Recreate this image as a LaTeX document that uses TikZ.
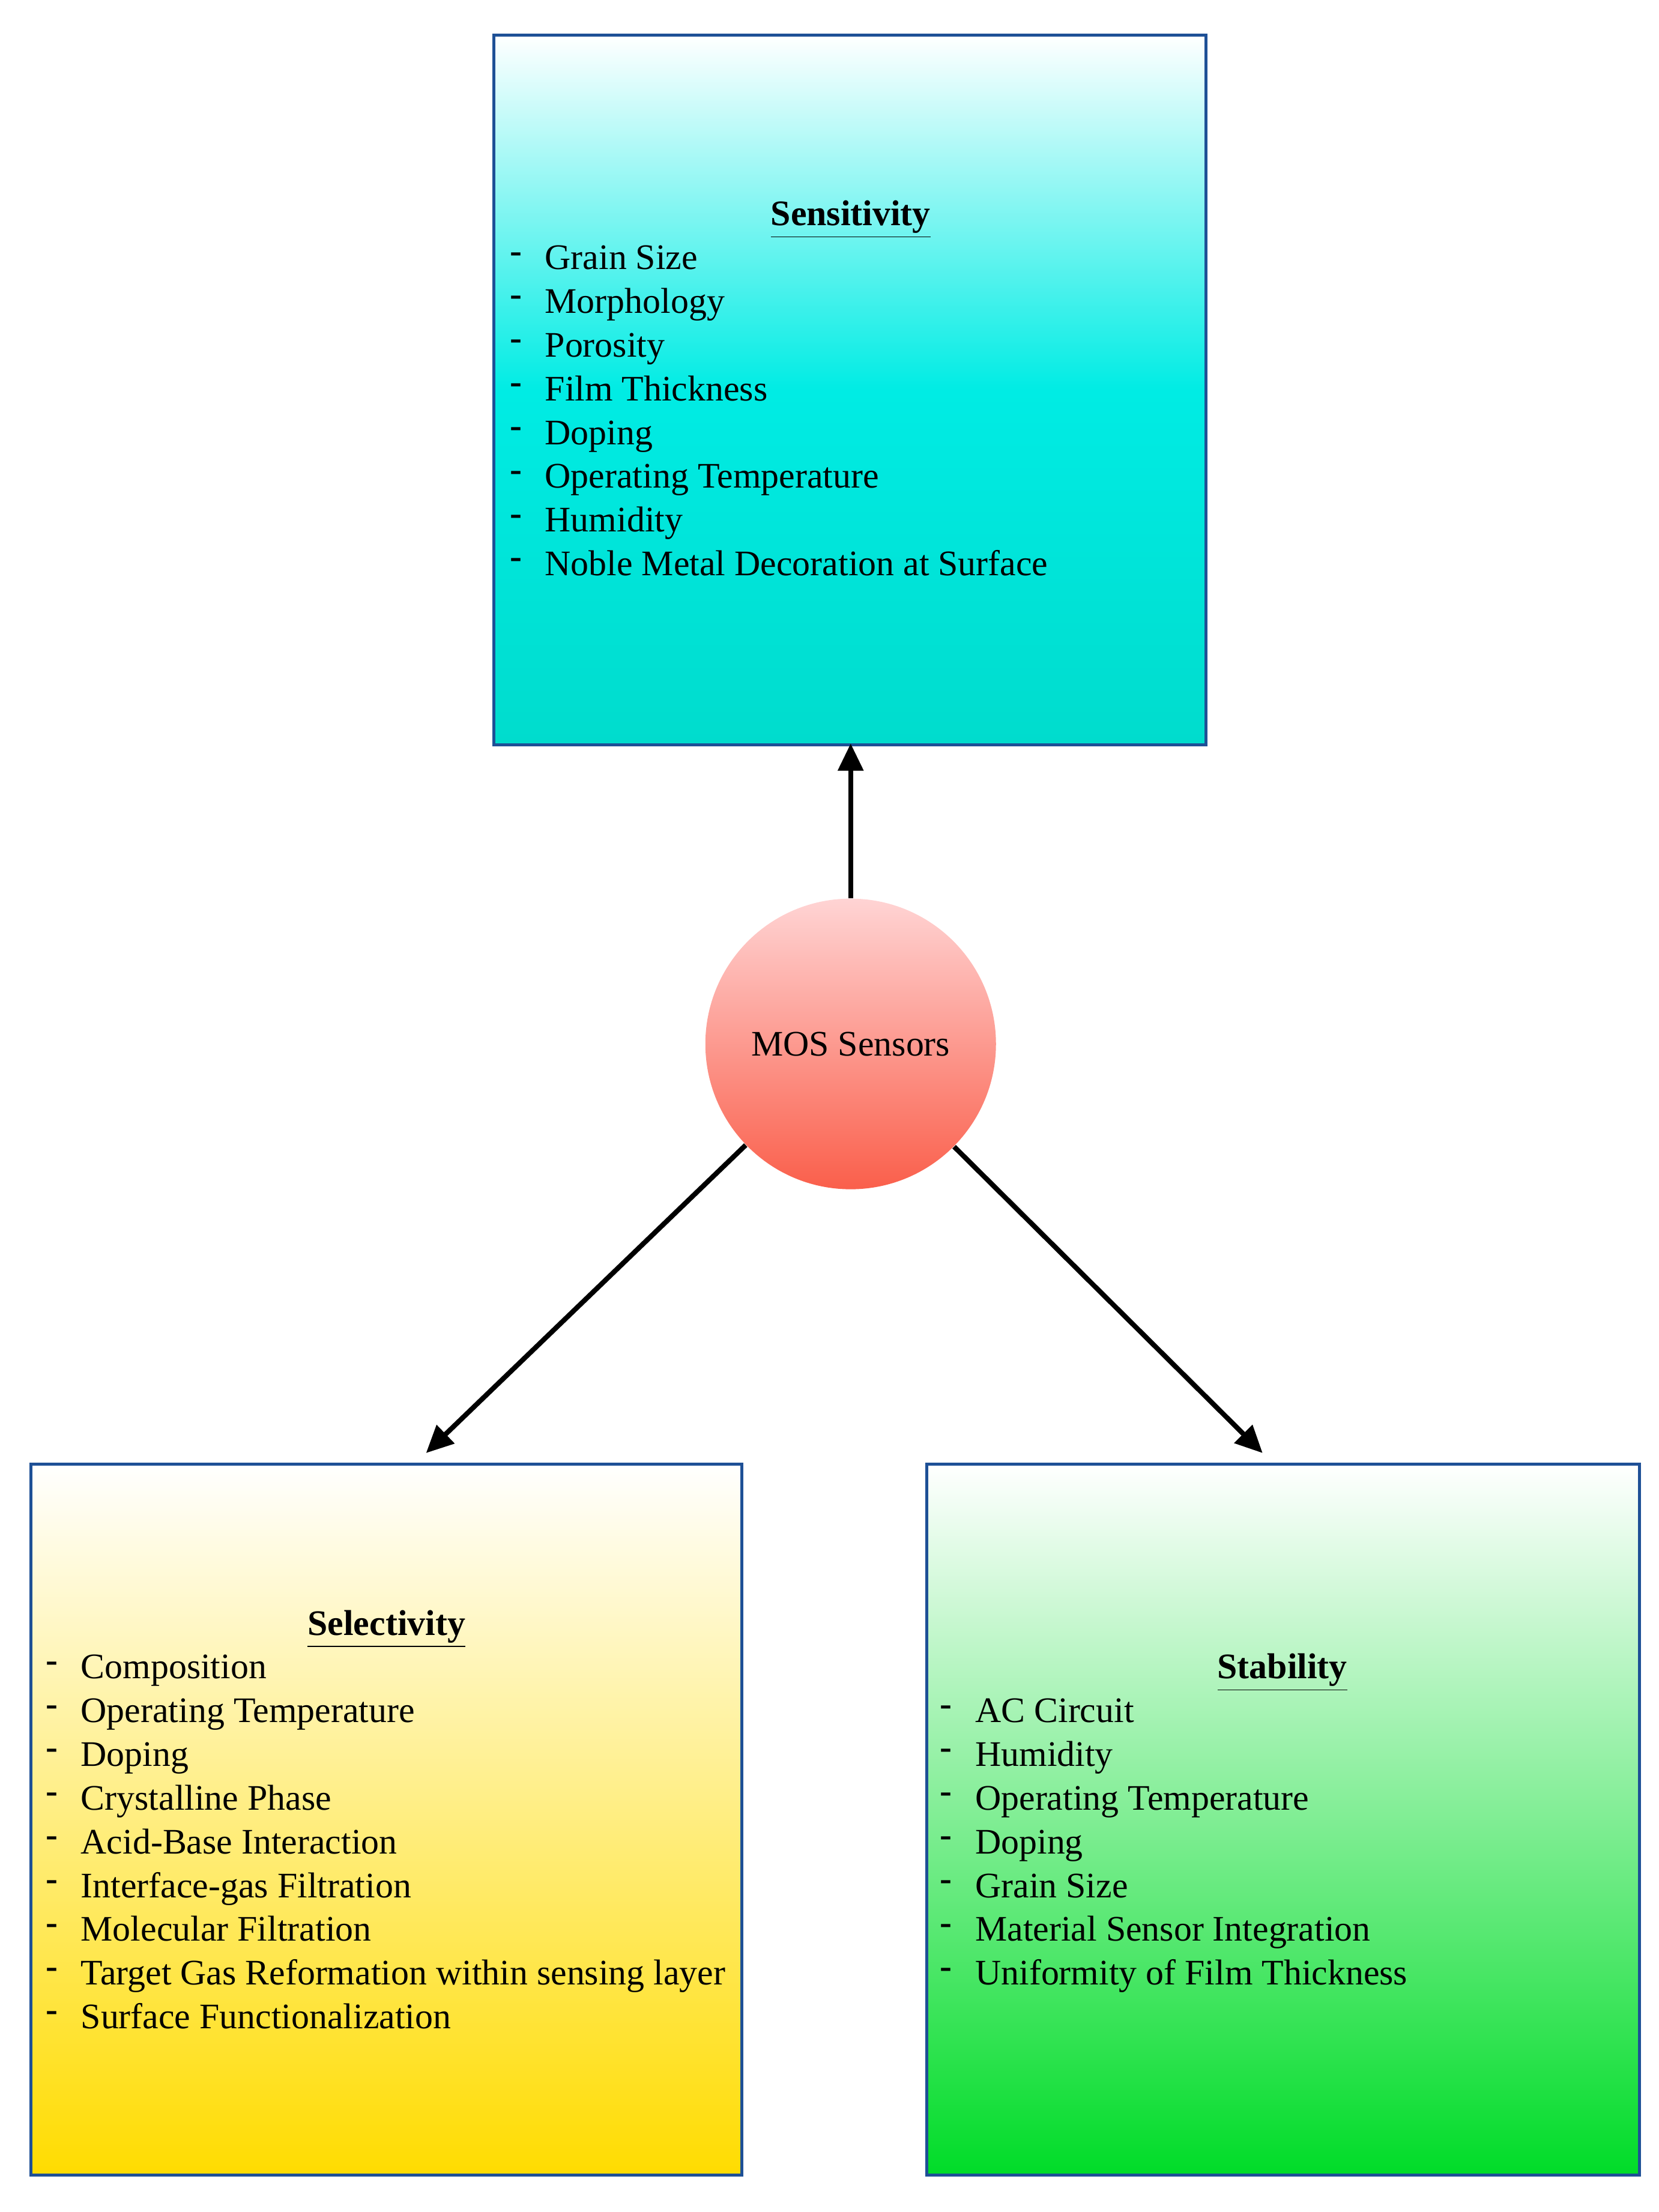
\documentclass[tikz,border=0pt]{standalone}
\usepackage{fontspec}
\setmainfont{Liberation Serif}
\usetikzlibrary{arrows.meta}
\definecolor{edge}{RGB}{30,80,150}
\definecolor{cyanmid}{RGB}{0,236,228}
\definecolor{cyanbot}{RGB}{0,220,205}
\definecolor{yelbot}{RGB}{255,220,0}
\definecolor{grnbot}{RGB}{0,220,40}
\tikzset{
  box/.style={draw=edge,line width=1.2pt},
  item/.style={anchor=base west,inner sep=0pt,font=\fontsize{14.5}{17}\selectfont},
  head/.style={anchor=base,inner sep=0pt,font=\fontsize{14.5}{17}\selectfont\bfseries},
  link/.style={-{Triangle[length=11pt,width=10pt]},line width=2pt}
}
\begin{document}
\begin{tikzpicture}[x=0.02cm,y=-0.02cm]
\useasboundingbox (0,0) rectangle (1176,1568);
% boxes
\shade[top color=white,bottom color=cyanbot,middle color=cyanmid] (350,25) rectangle (855,528);
\draw[box] (350,25) rectangle (855,528);
\coordinate (sens) at (603,527);
\shade[top color=white,bottom color=yelbot] (22,1038) rectangle (526,1542);
\draw[box] (22,1038) rectangle (526,1542);
\coordinate (sel) at (302,1030);
\shade[top color=white,bottom color=grnbot] (657,1038) rectangle (1162,1542);
\draw[box] (657,1038) rectangle (1162,1542);
\coordinate (stab) at (895,1030);
% centre
\node[circle,minimum size=206*0.02cm,inner sep=0pt,top color={rgb,255:red,255;green,212;blue,212},bottom color={rgb,255:red,250;green,95;blue,75},font=\fontsize{14.5}{17}\selectfont] (mos) at (603,740) {MOS Sensors};
\draw[link] (mos) -- (sens);
\draw[link] (mos) -- (sel);
\draw[link] (mos) -- (stab);
% texts
\node[head] (h1) at (603,160) {\underline{Sensitivity}};
\foreach \t [count=\i] in {Grain Size,Morphology,Porosity,Film Thickness,Doping,Operating Temperature,Humidity,Noble Metal Decoration at Surface}{
  \node[item] (d1\i) at (361,{186+31*(\i-1)}) {\textbf{-}};
  \node[item] (t1\i) at (386,{191+31*(\i-1)}) {\t};
}
\node[head] (h2) at (274,1159) {\underline{Selectivity}};
\foreach \t [count=\i] in {Composition,Operating Temperature,Doping,Crystalline Phase,Acid-Base Interaction,Interface-gas Filtration,Molecular Filtration,Target Gas Reformation within sensing layer,Surface Functionalization}{
  \node[item] (d2\i) at (32,{1185+31*(\i-1)}) {\textbf{-}};
  \node[item] (t2\i) at (57,{1190+31*(\i-1)}) {\t};
}
\node[head] (h3) at (909,1190) {\underline{Stability}};
\foreach \t [count=\i] in {AC Circuit,Humidity,Operating Temperature,Doping,Grain Size,Material Sensor Integration,Uniformity of Film Thickness}{
  \node[item] (d3\i) at (666,{1216+31*(\i-1)}) {\textbf{-}};
  \node[item] (t3\i) at (691,{1221+31*(\i-1)}) {\t};
}
\end{tikzpicture}
\end{document}
